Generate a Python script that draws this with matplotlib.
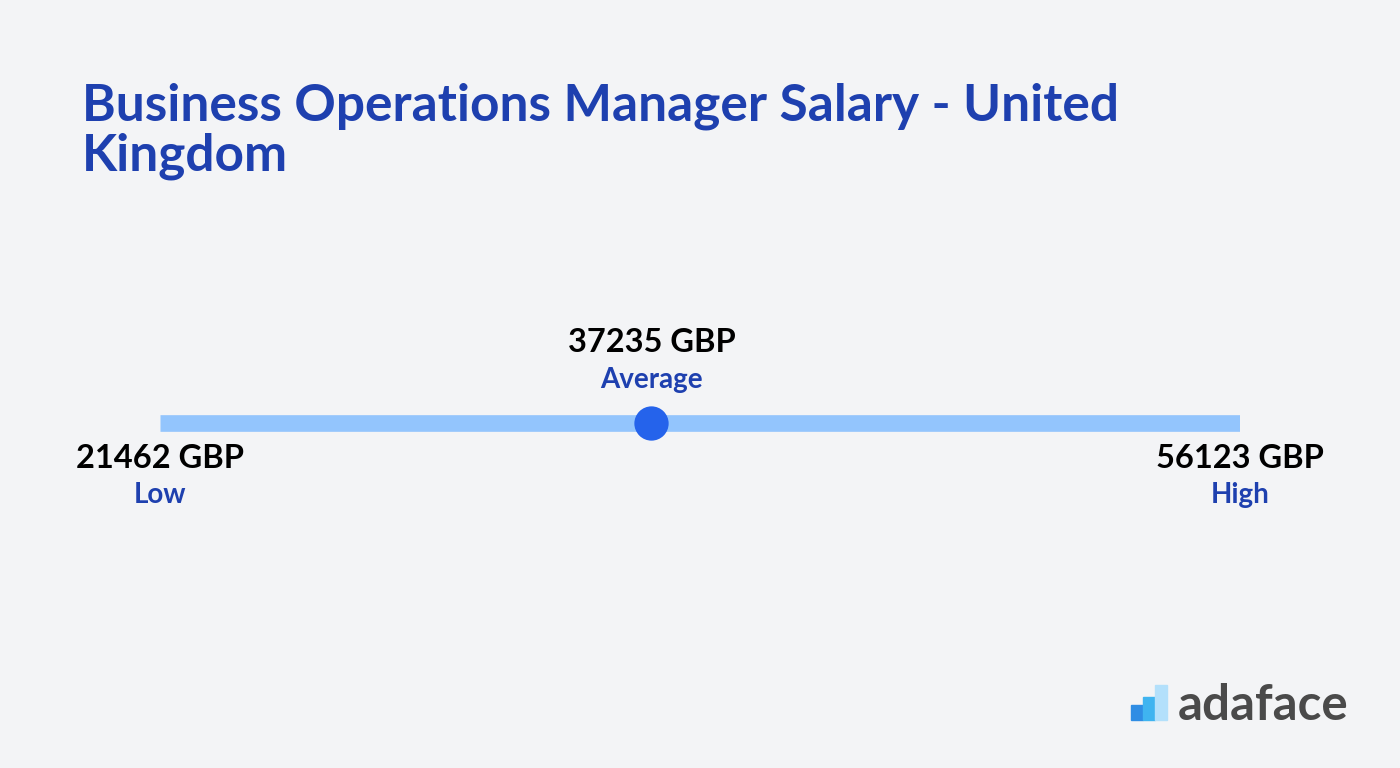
import matplotlib.pyplot as plt
from matplotlib.patches import Rectangle

# salary data
title = "Business Operations Manager Salary - United\nKingdom"
labels = ['Low', 'Average', 'High']
values = [21462, 37235, 56123]
currency = 'GBP'

bg = '#f3f4f6'
dark_blue = '#1e40af'
bar_blue = '#93c5fd'
dot_blue = '#2563eb'

plt.rcParams['font.family'] = ['Lato', 'DejaVu Sans']

fig = plt.figure(figsize=(14, 7.68), dpi=100, facecolor=bg)

# axes spanning the range bar (x: 160..1240 px)
ax = fig.add_axes([160 / 1400, 0, 1080 / 1400, 1])
ax.set_facecolor(bg)
ax.set_xlim(values[0], values[2])
ax.set_ylim(0, 768)
ax.axis('off')

bar_y = 768 - 423
ax.plot([values[0], values[2]], [bar_y, bar_y], color=bar_blue, lw=12,
        solid_capstyle='butt', zorder=1)
ax.scatter([values[1]], [bar_y], s=610, color=dot_blue, zorder=3, linewidths=0)

# low / high labels under the bar, average above
for lab, val in [(labels[0], values[0]), (labels[2], values[2])]:
    ax.text(val, 768 - 468, f"{val} {currency}", ha='center', va='baseline',
            fontsize=23.5, fontweight='bold', color='black', clip_on=False)
    ax.text(val, 768 - 503, lab, ha='center', va='baseline',
            fontsize=20, fontweight='bold', color=dark_blue, clip_on=False)

ax.text(values[1], 768 - 352, f"{values[1]} {currency}", ha='center', va='baseline',
        fontsize=23.5, fontweight='bold', color='black')
ax.text(values[1], 768 - 388, labels[1], ha='center', va='baseline',
        fontsize=20, fontweight='bold', color=dark_blue)

# title (baseline given for the last line)
fig.text(82 / 1400, 1 - 170 / 768, title, ha='left', va='baseline',
         fontsize=37, fontweight='bold', color=dark_blue, linespacing=1.05)

# adaface logo
for x0, y0, h, c in [(1131, 705, 15, '#2f8de4'), (1143, 697, 23, '#3fb4f0'),
                     (1155, 685, 35, '#b3e0fb')]:
    fig.patches.append(Rectangle((x0 / 1400, 1 - (y0 + h) / 768), 12 / 1400, h / 768,
                                 transform=fig.transFigure, color=c))
fig.text(1178 / 1400, 1 - 720 / 768, 'adaface', ha='left', va='baseline',
         fontsize=35.5, fontweight='bold', color='#4a4a4a')

plt.savefig('out.png', dpi=100, facecolor=bg)
